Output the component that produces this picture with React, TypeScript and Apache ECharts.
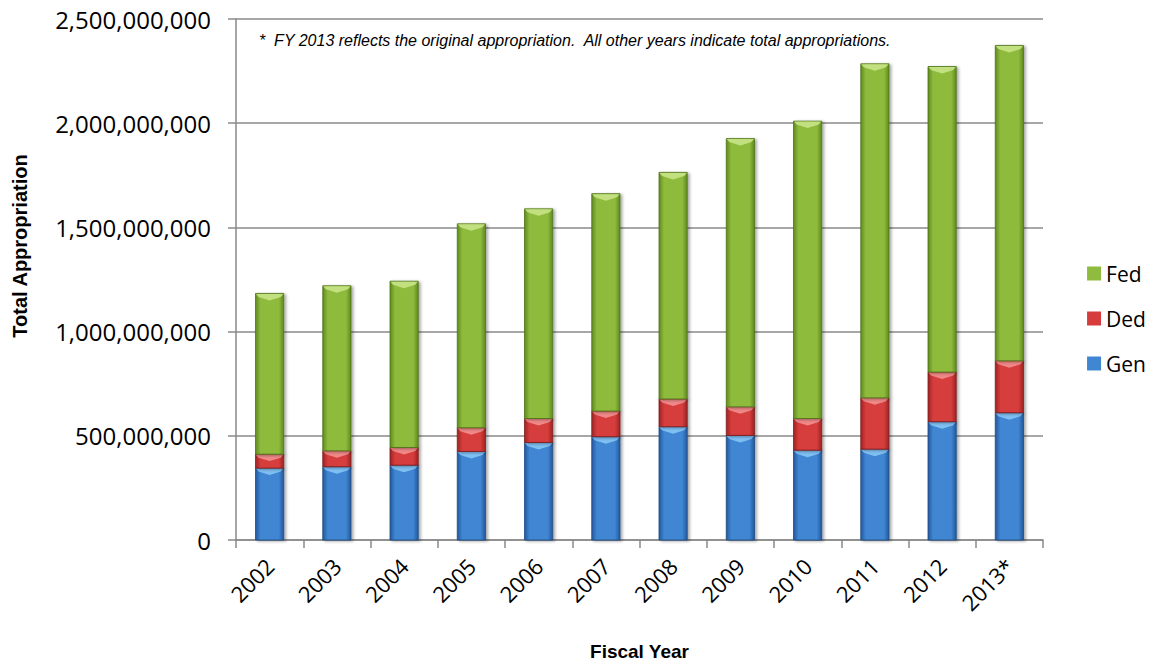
import React, { useEffect, useRef } from "react";
import * as echarts from "echarts";

// Fiscal years and appropriation amounts (dollars) by fund source
const years = ["2002", "2003", "2004", "2005", "2006", "2007", "2008", "2009", "2010", "2011", "2012", "2013*"];
const gen = [345e6, 352e6, 359e6, 425e6, 468e6, 496e6, 544e6, 502e6, 431e6, 436e6, 568e6, 611e6];
const ded = [67e6, 76e6, 85e6, 114e6, 115e6, 123e6, 133e6, 137e6, 152e6, 246e6, 238e6, 249e6];
const fed = [771e6, 792e6, 798e6, 978e6, 1006e6, 1043e6, 1087e6, 1287e6, 1427e6, 1603e6, 1466e6, 1513e6];
const yTicks = [0, 500e6, 1000e6, 1500e6, 2000e6, 2500e6];

const note = "*  FY 2013 reflects the original appropriation.  All other years indicate total appropriations.";

type Palette = { edge: string; mid: string; light: string; stroke: string };
const palettes: Record<string, Palette> = {
  Gen: { edge: "#24589c", mid: "#3f86d3", light: "#86c6f6", stroke: "#1f4c85" },
  Ded: { edge: "#9c2424", mid: "#d63c3c", light: "#f49090", stroke: "#821e1e" },
  Fed: { edge: "#5f8a1f", mid: "#8fbb3e", light: "#c8e486", stroke: "#4f741a" },
};

function stackRows(values: number[], below: number[][]) {
  return values.map((v, i) => {
    const base = below.reduce((s, arr) => s + arr[i], 0);
    return [i, base, base + v];
  });
}

function makeRender(p: Palette) {
  return (params: any, api: any) => {
    const idx = api.value(0);
    const lo = api.coord([idx, api.value(1)]);
    const hi = api.coord([idx, api.value(2)]);
    const w = api.size([1, 0])[0] * 0.42;
    const x = lo[0] - w / 2;
    const y = hi[1];
    const h = lo[1] - hi[1];
    const bevel = Math.min(7, h / 2);
    return {
      type: "group",
      children: [
        {
          type: "rect",
          shape: { x, y, width: w, height: h },
          style: {
            fill: {
              type: "linear", x: 0, y: 0, x2: 1, y2: 0,
              colorStops: [
                { offset: 0, color: p.edge },
                { offset: 0.18, color: p.mid },
                { offset: 0.5, color: p.mid },
                { offset: 0.82, color: p.mid },
                { offset: 1, color: p.edge },
              ],
            },
            stroke: p.stroke,
            lineWidth: 0.8,
            shadowBlur: 3,
            shadowOffsetX: 2,
            shadowOffsetY: 1,
            shadowColor: "rgba(0,0,0,0.35)",
          },
        },
        {
          type: "polygon",
          shape: {
            points: [
              [x + 0.5, y + 0.5],
              [x + w - 0.5, y + 0.5],
              [x + w - 3, y + bevel * 0.5],
              [x + w / 2, y + bevel],
              [x + 3, y + bevel * 0.5],
            ],
          },
          style: { fill: p.light, opacity: 0.9 },
        },
      ],
    };
  };
}

export default function App() {
  const ref = useRef<HTMLDivElement>(null);

  useEffect(() => {
    if (!ref.current) return;
    const chart = echarts.init(ref.current, undefined, { renderer: "svg" });
    const genRows = stackRows(gen, []);
    const dedRows = stackRows(ded, [gen]);
    const fedRows = stackRows(fed, [gen, ded]);
    const labelFont = "'Open Sans', 'Noto Sans', sans-serif";
    const titleFont = "'Liberation Sans', Arial, sans-serif";
    const gray = "#8a8a8a";

    const mkSeries = (name: string, rows: number[][]) => ({
      name,
      type: "custom",
      renderItem: makeRender(palettes[name]),
      encode: { x: 0, y: [1, 2] },
      itemStyle: { color: palettes[name].mid },
      data: rows,
    });

    chart.setOption({
      animation: false,
      backgroundColor: "#ffffff",
      grid: { left: 236, right: 112, top: 19, bottom: 123 },
      legend: {
        orient: "vertical",
        right: 4,
        top: 258,
        itemWidth: 14,
        itemHeight: 14,
        itemGap: 24,
        icon: "rect",
        data: ["Fed", "Ded", "Gen"],
        textStyle: { fontFamily: labelFont, fontSize: 21, color: "#000" },
      },
      xAxis: {
        type: "category",
        data: years,
        name: "Fiscal Year",
        nameLocation: "middle",
        nameGap: 102,
        nameTextStyle: { fontFamily: titleFont, fontWeight: "bold", fontSize: 19, color: "#000" },
        axisLine: { lineStyle: { color: gray, width: 1.5 } },
        axisTick: { show: true, length: 8, lineStyle: { color: gray, width: 1.5 } },
        axisLabel: { rotate: 45, fontFamily: labelFont, fontSize: 22, color: "#000", margin: 22 },
      },
      yAxis: {
        type: "value",
        min: 0,
        max: yTicks[yTicks.length - 1],
        interval: yTicks[1] - yTicks[0],
        axisLine: { show: true, lineStyle: { color: gray, width: 1.5 } },
        axisTick: { show: true, length: 8, lineStyle: { color: gray, width: 1.5 } },
        splitLine: { lineStyle: { color: gray, width: 1.5 } },
        axisLabel: {
          fontFamily: labelFont,
          fontSize: 24,
          color: "#000",
          margin: 25,
          formatter: (v: number) => v.toLocaleString("en-US"),
        },
      },
      graphic: [
        {
          type: "text",
          left: 259,
          top: 32,
          style: {
            text: note,
            fontFamily: titleFont,
            fontStyle: "italic",
            fontSize: 16,
            fill: "#000",
          },
        },
        {
          type: "text",
          x: 20,
          y: 246,
          rotation: Math.PI / 2,
          style: {
            text: "Total Appropriation",
            fontFamily: titleFont,
            fontWeight: "bold",
            fontSize: 20,
            fill: "#000",
            align: "center",
            verticalAlign: "middle",
          },
        },
      ],
      series: [mkSeries("Gen", genRows), mkSeries("Ded", dedRows), mkSeries("Fed", fedRows)],
    });
    return () => chart.dispose();
  }, []);

  return <div ref={ref} style={{ width: 1155, height: 666, position: "absolute", left: 0, top: 0 }} />;
}
